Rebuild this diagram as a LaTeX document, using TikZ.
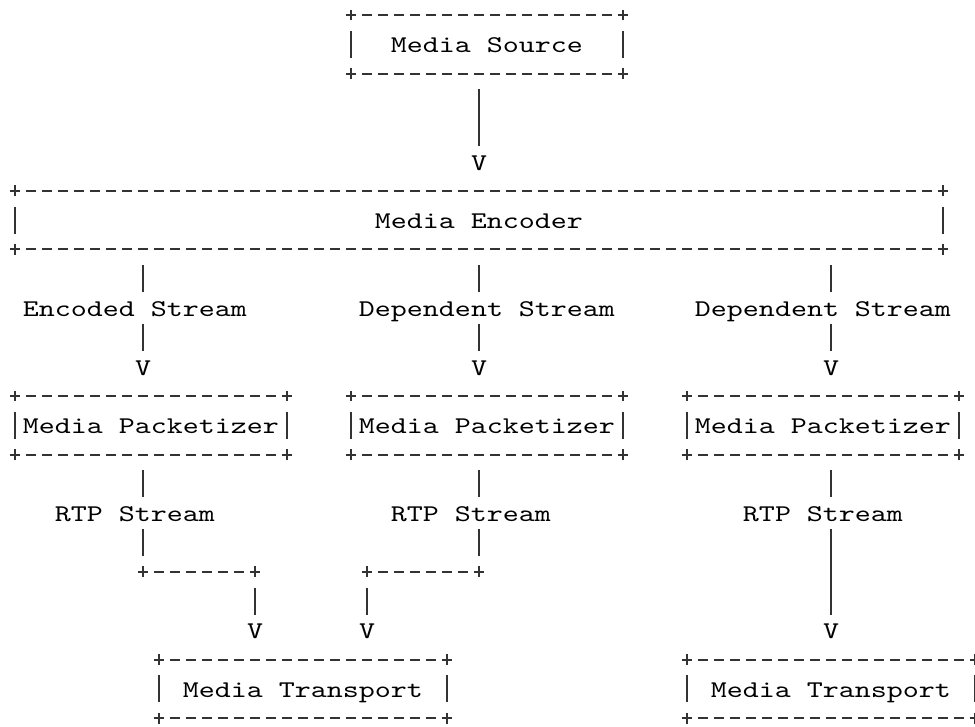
\documentclass[tikz,border=0pt]{standalone}
\usepackage{fontspec}
\newfontfamily\asciifont{lmmono10-regular.otf}[FakeStretch=1.27]

\begin{document}
\begin{tikzpicture}[
    x=12pt, y=-21.975pt,
    font=\fontsize{18pt}{20pt}\asciifont,
    box/.style={minimum height=43.95pt, inner sep=0pt, outer sep=0pt,
                text height=14.5pt, text depth=1.5pt},
    lbl/.style={inner xsep=0pt, inner ysep=3.85pt, outer sep=0pt,
                text height=14.5pt, text depth=1.5pt},
    tip/.style={lbl},
    rule/.style={line width=1.5pt, draw=black!80},
    dashrule/.style={rule, dash pattern=on 7.5pt off 4.5pt, dash phase=3.75pt},
    wire/.style={rule},
    drop/.style={wire, shorten <=11.85pt},
    corner/.pic={\draw[rule] (-4pt,0) -- (4pt,0) (0,-4pt) -- (0,4pt);},
]
\clip (-11.25pt,11.25pt) rectangle (720pt,-533.25pt);

% ============================================================
% BOXES
% ============================================================
\node[box, minimum width=204pt] (src) at (29.5, 1) {Media Source};
\node[box, minimum width=696pt] (enc) at (29, 7) {Media Encoder};

\node[box, minimum width=204pt] (pk1) at (8.5, 14) {Media Packetizer};
\node[box, minimum width=204pt] (pk2) at (29.5, 14) {Media Packetizer};
\node[box, minimum width=204pt] (pk3) at (50.5, 14) {Media Packetizer};

\node[box, minimum width=216pt] (tr1) at (18, 23) {Media Transport};
\node[box, minimum width=216pt] (tr2) at (51, 23) {Media Transport};

% Outlines in the plain-text look (+---+ and |)
\foreach \b in {src, enc, pk1, pk2, pk3, tr1, tr2} {
    \draw[dashrule] (\b.north west) -- (\b.north east);
    \draw[dashrule] (\b.south west) -- (\b.south east);
    \draw[rule] ([yshift=10.125pt]\b.west) -- ([yshift=-10.125pt]\b.west);
    \draw[rule] ([yshift=10.125pt]\b.east) -- ([yshift=-10.125pt]\b.east);
    \foreach \c in {north west, north east, south west, south east}
        \pic at (\b.\c) {corner};
}

% --- Arrow tips (V) ---
\node[tip] (v0) at (29, 5) {V};
\node[tip] (v1) at (8, 12) {V};
\node[tip] (v2) at (29, 12) {V};
\node[tip] (v3) at (51, 12) {V};
\node[tip] (v4) at (15, 21) {V};
\node[tip] (v5) at (22, 21) {V};
\node[tip] (v6) at (51, 21) {V};

% --- Stream labels ---
\node[lbl] (es1) at (7.5, 10) {Encoded Stream};
\node[lbl] (ds2) at (29.5, 10) {Dependent Stream};
\node[lbl] (ds3) at (50.5, 10) {Dependent Stream};

\node[lbl] (rtp1) at (7.5, 17) {RTP Stream};
\node[lbl] (rtp2) at (28.5, 17) {RTP Stream};
\node[lbl] (rtp3) at (50.5, 17) {RTP Stream};

% ============================================================
% CONNECTORS
% ============================================================
\draw[drop] (src.south -| v0) -- (v0.north);

\draw[drop] (enc.south -| v1) -- (es1.north -| v1);
\draw[wire] (es1.south -| v1) -- (v1.north);
\draw[drop] (enc.south -| v2) -- (ds2.north -| v2);
\draw[wire] (ds2.south -| v2) -- (v2.north);
\draw[drop] (enc.south -| v3) -- (ds3.north -| v3);
\draw[wire] (ds3.south -| v3) -- (v3.north);

% Elbows into the shared transport
\coordinate (k1) at (8, 19);
\coordinate (k2) at (15, 19);
\coordinate (k3) at (29, 19);
\coordinate (k4) at (22, 19);

\draw[drop] (pk1.south -| k1) -- (rtp1.north -| k1);
\draw[wire] (rtp1.south -| k1) -- ([yshift=11.85pt]k1);
\draw[dashrule] (k1) -- (k2);
\draw[wire] ([yshift=-11.85pt]k2) -- (v4.north);

\draw[drop] (pk2.south -| k3) -- (rtp2.north -| k3);
\draw[wire] (rtp2.south -| k3) -- ([yshift=11.85pt]k3);
\draw[dashrule] (k3) -- (k4);
\draw[wire] ([yshift=-11.85pt]k4) -- (v5.north);

\foreach \k in {k1, k2, k3, k4}
    \pic at (\k) {corner};

% Third stream straight down
\draw[drop] (pk3.south -| v6) -- (rtp3.north -| v6);
\draw[wire] (rtp3.south -| v6) -- (v6.north);

\end{tikzpicture}
\end{document}
